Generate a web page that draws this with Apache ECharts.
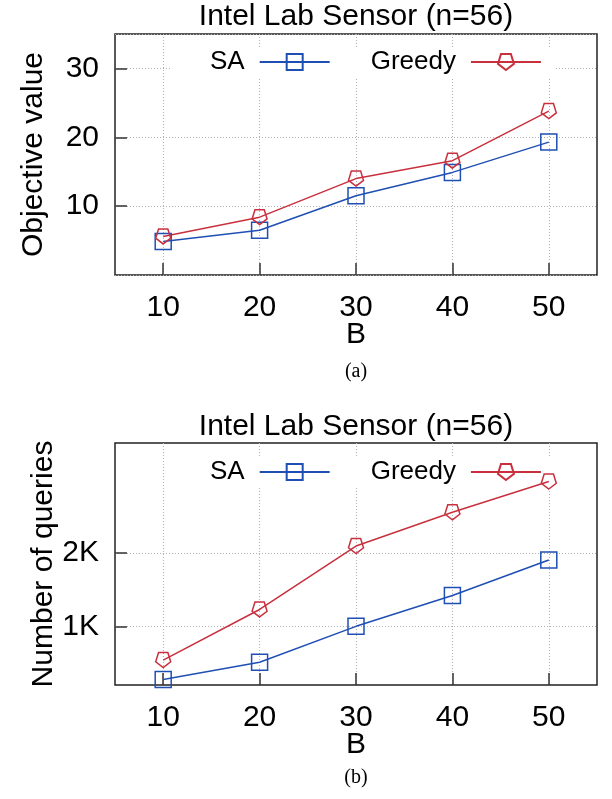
<!DOCTYPE html>
<html lang="en">
<head>
  <meta charset="UTF-8" />
  <title>Intel Lab Sensor (n=56)</title>
  <script src="https://cdn.jsdelivr.net/npm/echarts@6/dist/echarts.min.js"></script>
  <style>
    html, body { margin: 0; padding: 0; background: #fff; }
    #chart { width: 612px; height: 799px; }
  </style>
</head>
<body>
  <div id="chart"></div>
  <script>
    // data
    const budgets = [10, 20, 30, 40, 50];
    const objSA = [4.85, 6.5, 11.5, 14.9, 19.3];
    const objGreedy = [5.6, 8.4, 14.0, 16.6, 23.8];
    const querySA = [275, 510, 1000, 1420, 1905];
    const queryGreedy = [540, 1230, 2095, 2555, 2975];
    const queryTicks = [1000, 2000];
    const queryTickLabels = ['1K', '2K'];

    const BLUE = '#1f4fb3';
    const RED = '#c9303e';
    const FONT = 'Liberation Sans';
    const FS = 30;
    const pentagon = 'path://M50 100 L97.55 65.45 L79.39 9.55 L20.61 9.55 L2.45 65.45 Z';

    const pair = xs => (ys => xs.map((x, i) => [x, ys[i]]));
    const onB = pair(budgets);

    const gridLine = { show: true, lineStyle: { color: '#b0b0b0', type: [1, 2], width: 1 } };
    const tickStyle = { show: true, inside: true, length: 12, lineStyle: { color: '#333', width: 1.5 } };

    function xAxisFor(gridIndex) {
      return {
        gridIndex, type: 'value', min: 5, max: 55,
        name: 'B', nameLocation: 'middle', nameGap: 45, nameMoveOverlap: false,
        nameTextStyle: { fontFamily: FONT, fontSize: FS, color: '#000' },
        axisLine: { show: false },
        axisTick: Object.assign({ customValues: budgets }, tickStyle),
        axisLabel: { customValues: budgets, margin: 18, fontFamily: FONT, fontSize: FS, color: '#000' },
        splitLine: gridLine
      };
    }

    function series(name, data, color, symbol, size, xi) {
      return {
        name, type: 'line', xAxisIndex: xi, yAxisIndex: xi, data,
        symbol, symbolSize: size, z: 3,
        lineStyle: { color, width: 1.5 },
        itemStyle: { color: 'rgba(0,0,0,0)', borderColor: color, borderWidth: 1.5 }
      };
    }

    function legendFor(top) {
      return {
        top, left: 170, width: 420, z: 1, orient: 'horizontal',
        align: 'right', itemGap: 40, itemWidth: 70, itemHeight: 20,
        backgroundColor: '#fff', padding: [2, 14, 2, 40],
        textStyle: { fontFamily: FONT, fontSize: 26, color: '#000', padding: [0, 10, 0, 0] },
        data: ['SA', 'Greedy']
      };
    }

    const chart = echarts.init(document.getElementById('chart'), null, { renderer: 'canvas' });
    chart.setOption({
      animation: false,
      backgroundColor: '#fff',
      title: [
        { text: 'Intel Lab Sensor (n=56)', left: 356, top: 2, textAlign: 'center', padding: 0,
          textStyle: { fontFamily: FONT, fontSize: FS, fontWeight: 'normal', color: '#000' } },
        { text: '(a)', left: 356, top: 362, textAlign: 'center', padding: 0,
          textStyle: { fontFamily: 'Liberation Serif', fontSize: 20, fontWeight: 'normal', color: '#000' } },
        { text: 'Intel Lab Sensor (n=56)', left: 356, top: 412, textAlign: 'center', padding: 0,
          textStyle: { fontFamily: FONT, fontSize: FS, fontWeight: 'normal', color: '#000' } },
        { text: '(b)', left: 356, top: 768, textAlign: 'center', padding: 0,
          textStyle: { fontFamily: 'Liberation Serif', fontSize: 20, fontWeight: 'normal', color: '#000' } }
      ],
      legend: [legendFor(47), legendFor(457)],
      grid: [
        { left: 115, top: 34, width: 482, height: 241, show: true, borderColor: '#222', borderWidth: 1.5 },
        { left: 115, top: 443, width: 482, height: 242, show: true, borderColor: '#222', borderWidth: 1.5 }
      ],
      xAxis: [xAxisFor(0), xAxisFor(1)],
      yAxis: [
        {
          gridIndex: 0, type: 'value', min: 0, max: 35, interval: 10,
          name: 'Objective value', nameLocation: 'middle', nameGap: 66, nameMoveOverlap: false,
          nameTextStyle: { fontFamily: FONT, fontSize: FS, color: '#000' },
          axisLine: { show: false },
          axisTick: tickStyle,
          axisLabel: { showMinLabel: false, showMaxLabel: false, margin: 16, fontFamily: FONT, fontSize: FS, color: '#000' },
          splitLine: gridLine
        },
        {
          gridIndex: 1, type: 'value', min: 200, max: 3500,
          name: 'Number of queries', nameLocation: 'middle', nameGap: 56, nameMoveOverlap: false,
          nameTextStyle: { fontFamily: FONT, fontSize: FS, color: '#000' },
          axisLine: { show: false },
          axisTick: Object.assign({ customValues: queryTicks }, tickStyle),
          axisLabel: {
            customValues: queryTicks, margin: 16, fontFamily: FONT, fontSize: FS, color: '#000',
            formatter: v => queryTickLabels[queryTicks.indexOf(v)]
          },
          splitLine: gridLine
        }
      ],
      series: [
        series('SA', onB(objSA), BLUE, 'rect', 16, 0),
        series('Greedy', onB(objGreedy), RED, pentagon, 15, 0),
        series('SA', onB(querySA), BLUE, 'rect', 16, 1),
        series('Greedy', onB(queryGreedy), RED, pentagon, 15, 1)
      ]
    });
  </script>
</body>
</html>
